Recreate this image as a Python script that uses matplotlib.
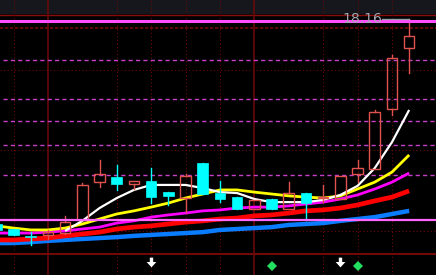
"""K 线 + 均线示意图（黑底行情软件风格）。"""
import numpy as np
import matplotlib
matplotlib.use("Agg")
import matplotlib.pyplot as plt
from matplotlib.patches import Rectangle
from matplotlib.path import Path

# candle index -1 is the one cut off at the left edge
idx = list(range(-1, 24))

opens = [11.60, 11.44, 11.22, 11.25, 11.31, 11.73, 12.94, 13.10, 12.88, 12.98,
         12.62, 12.43, 13.55, 12.59, 12.46, 12.08, 12.40, 12.08, 12.59, 12.43,
         12.40, 13.20, 13.36, 15.28, 17.23]
highs = [11.63, 11.45, 11.34, 11.41, 11.86, 12.91, 13.65, 13.49, 12.98, 13.39,
         12.63, 13.20, 13.56, 12.98, 12.47, 12.37, 12.41, 12.94, 12.60, 12.85,
         13.14, 13.65, 15.25, 17.01, 18.16]
lows = [11.38, 11.24, 10.93, 11.12, 11.28, 11.72, 12.78, 12.69, 12.72, 12.27,
        12.21, 11.98, 12.55, 12.30, 12.07, 12.07, 12.07, 12.07, 11.73, 12.30,
        12.39, 12.94, 13.36, 15.09, 16.43]
closes = [11.41, 11.25, 11.18, 11.34, 11.66, 12.85, 13.20, 12.88, 12.98, 12.46,
          12.50, 13.14, 12.56, 12.40, 12.08, 12.37, 12.08, 12.59, 12.27, 12.45,
          13.14, 13.39, 15.18, 16.91, 17.62]

ma_white = [np.nan, np.nan, np.nan, np.nan, 11.38, 11.70, 12.11, 12.43, 12.69, 12.85,
            12.85, 12.85, 12.75, 12.62, 12.59, 12.40, 12.30, 12.30, 12.30, 12.37,
            12.53, 12.82, 13.39, 14.22, 15.25]
ma_yellow = [11.54, 11.47, 11.41, 11.41, 11.47, 11.60, 11.76, 11.92, 12.02, 12.14,
             12.27, 12.43, 12.56, 12.69, 12.69, 12.62, 12.56, 12.50, 12.46, 12.43,
             12.50, 12.72, 12.94, 13.26, 13.81]
ma_magenta = [11.31, 11.31, 11.31, 11.34, 11.38, 11.44, 11.50, 11.63, 11.70, 11.82,
              11.89, 11.95, 12.02, 12.05, 12.11, 12.14, 12.14, 12.18, 12.24, 12.30,
              12.40, 12.53, 12.72, 12.94, 13.23]
ma_red = [11.09, 11.09, 11.12, 11.15, 11.22, 11.28, 11.34, 11.44, 11.50, 11.54,
          11.60, 11.66, 11.70, 11.76, 11.79, 11.86, 11.89, 11.95, 12.02, 12.05,
          12.11, 12.21, 12.34, 12.46, 12.66]
ma_blue = [10.99, 10.99, 11.02, 11.06, 11.09, 11.12, 11.15, 11.18, 11.22, 11.25,
           11.28, 11.31, 11.34, 11.41, 11.44, 11.47, 11.50, 11.57, 11.60, 11.63,
           11.70, 11.76, 11.82, 11.92, 12.02]

dashed_levels = [16.85, 15.60, 14.90, 14.13, 13.17]
dotted_levels = [17.87, 16.53, 13.97, 11.38]
solid_levels = [18.10, 11.73]
grid_dotted_x = [0, 6, 8, 10, 12, 18, 20, 22]
grid_solid_x = [2, 14]
arrow_x = [8, 19]
diamond_x = [15, 20]
last_high = "18.16"

fig = plt.figure(figsize=(4.36, 2.75), dpi=100)
ax = fig.add_axes([0, 0, 1, 1])
ax.set_facecolor("black")
fig.patch.set_facecolor("black")
ax.set_xlim(-0.785, 24.56)
ax.set_ylim(9.968, 18.768)
ax.axis("off")

# top strip + borders
ax.axhspan(18.35, 18.768, color="#15171c", zorder=0)
ax.axhline(18.29, color="#8a0c0c", lw=1.0, zorder=1)
ax.axhline(10.65, color="#8a0c0c", lw=1.2, zorder=1)

for x in grid_dotted_x:
    ax.axvline(x, color="#700808", lw=0.8, linestyle=(0, (1, 2.2)), zorder=1)
for x in grid_solid_x:
    ax.axvline(x, color="#700808", lw=1.1, zorder=1)
for i, y in enumerate(dotted_levels):
    ls = (0, (2, 1)) if i == 0 else (0, (1, 2.2))
    ax.axhline(y, color="#700808", lw=1.2 if i == 0 else 0.8, linestyle=ls, zorder=1)
for y in dashed_levels:
    ax.axhline(y, xmin=0.007, color="#c940c9", lw=1.0, linestyle=(0, (3, 2.3)), zorder=1)

# moving averages
x = np.array(idx)
ax.plot(x, ma_blue, color="#0a7cff", lw=3.2, zorder=2, solid_capstyle="butt")
ax.plot(x, ma_red, color="#ff0000", lw=3.4, zorder=2, solid_capstyle="butt")
ax.plot(x, ma_magenta, color="#ff00ff", lw=2.0, zorder=2, solid_capstyle="butt")
ax.plot(x, ma_yellow, color="#ffff00", lw=2.0, zorder=2, solid_capstyle="butt")
ax.plot(x, ma_white, color="#ffffff", lw=1.6, zorder=2, solid_capstyle="butt")

ax.axhline(solid_levels[0], color="#ff4dff", lw=2.2, zorder=4)
ax.axhline(solid_levels[1], color="#ff66ff", lw=1.6, zorder=4)

# candles
w = 0.62
up_col = "#e0524f"
dn_col = "#00ffff"
for i, o, h, l, c in zip(idx, opens, highs, lows, closes):
    top, bot = max(o, c), min(o, c)
    if c >= o:
        ax.plot([i, i], [top, h], color=up_col, lw=1.0, zorder=3)
        ax.plot([i, i], [l, bot], color=up_col, lw=1.0, zorder=3)
        ax.add_patch(Rectangle((i - w / 2, bot), w, max(top - bot, 0.02),
                               facecolor="none", edgecolor=up_col, lw=1.0, zorder=3))
    else:
        ax.plot([i, i], [l, h], color=dn_col, lw=1.0, zorder=3)
        ax.add_patch(Rectangle((i - w / 2, bot), w, max(top - bot, 0.03),
                               facecolor=dn_col, edgecolor=dn_col, lw=0.5, zorder=3))

# label of the latest high
ax.plot([21.45, 23], [highs[-1], highs[-1]], color="#9a9ea6", lw=1.0, zorder=5)
ax.text(21.42, highs[-1], last_high, color="#a4a8b0", fontsize=10,
        ha="right", va="center", zorder=6)

# signal markers at the bottom
arrow = Path([(-0.35, 1), (0.35, 1), (0.35, 0.1), (1, 0.1), (0, -1), (-1, 0.1),
              (-0.35, 0.1), (-0.35, 1)],
             [Path.MOVETO] + [Path.LINETO] * 6 + [Path.CLOSEPOLY])
ax.plot(arrow_x, [10.38] * len(arrow_x), linestyle="none", marker=arrow,
        markersize=7, color="white", markeredgewidth=0, zorder=5)
ax.plot(diamond_x, [10.25] * len(diamond_x), linestyle="none", marker="D",
        markersize=5, color="#22e060", markeredgewidth=0, zorder=5)

fig.savefig("out.png", dpi=100, facecolor="black")
plt.close(fig)
